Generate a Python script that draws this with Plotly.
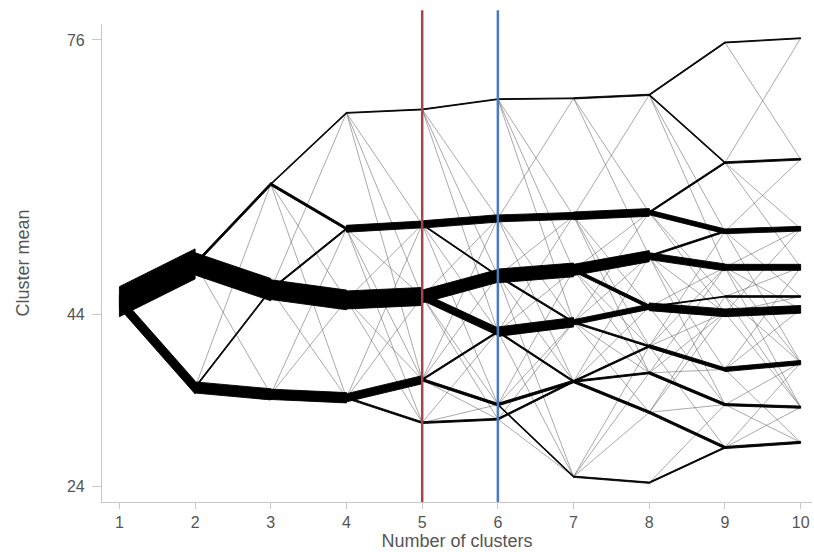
import plotly.graph_objects as go

# ---- data: cluster means for k = 1..10 clusters ----
k_values = [1, 2, 3, 4, 5, 6, 7, 8, 9, 10]
cluster_means = {
    1: [45.5],
    2: [49.9, 35.5],
    3: [59.2, 46.9, 34.7],
    4: [67.5, 54.0, 45.7, 34.3],
    5: [67.9, 54.5, 46.1, 36.4, 31.4],
    6: [69.1, 55.2, 48.5, 42.0, 33.5, 31.8],
    7: [69.2, 55.5, 49.2, 43.1, 36.2, 25.1],
    8: [69.6, 55.9, 50.8, 44.9, 40.3, 37.2, 32.6, 24.4],
    9: [75.7, 61.7, 53.7, 49.5, 46.1, 44.2, 37.6, 33.5, 28.5],
    10: [76.2, 62.1, 54.0, 49.5, 46.1, 44.6, 38.4, 33.2, 29.1],
}

# transitions (k, cluster index at k, cluster index at k+1, % of observations)
flows = [
    (1, 0, 0, 70), (1, 0, 1, 30),
    (2, 0, 0, 7), (2, 0, 1, 52), (2, 1, 1, 4), (2, 1, 2, 26),
    (3, 0, 0, 3), (3, 0, 1, 6), (3, 1, 1, 4), (3, 1, 2, 46), (3, 2, 3, 24),
    (4, 0, 0, 2), (4, 1, 1, 16), (4, 2, 2, 42), (4, 3, 3, 19), (4, 3, 4, 4),
    (5, 0, 0, 2), (5, 1, 1, 17), (5, 1, 2, 3), (5, 2, 2, 30), (5, 2, 3, 18),
    (5, 3, 3, 4), (5, 3, 4, 6), (5, 4, 5, 4),
    (6, 0, 0, 2), (6, 1, 1, 16), (6, 2, 2, 32), (6, 2, 3, 4), (6, 3, 3, 22),
    (6, 3, 4, 4), (6, 4, 4, 6), (6, 4, 5, 3), (6, 5, 4, 4),
    (7, 0, 0, 3), (7, 1, 1, 18), (7, 2, 2, 26), (7, 2, 3, 8), (7, 3, 3, 12),
    (7, 3, 4, 4), (7, 4, 4, 4), (7, 4, 5, 4), (7, 4, 6, 6), (7, 5, 7, 3),
    (8, 0, 0, 3), (8, 0, 1, 3), (8, 1, 1, 4), (8, 1, 2, 11), (8, 2, 3, 16),
    (8, 2, 2, 4), (8, 3, 5, 18), (8, 3, 4, 2), (8, 4, 6, 8), (8, 5, 7, 6),
    (8, 6, 8, 6), (8, 7, 8, 3),
    (9, 0, 0, 2), (9, 1, 1, 4), (9, 2, 2, 11), (9, 3, 3, 14), (9, 4, 4, 4),
    (9, 5, 5, 18), (9, 6, 6, 10), (9, 7, 7, 5), (9, 8, 8, 5),
]

# small transitions (a few observations each)
minor_flows = [
    (2, 0, 2), (2, 1, 0),
    (3, 0, 2), (3, 0, 3), (3, 2, 1), (3, 2, 2), (3, 1, 3), (3, 1, 0),
    (4, 0, 1), (4, 0, 2), (4, 0, 3), (4, 1, 2), (4, 1, 3), (4, 1, 4),
    (4, 2, 1), (4, 2, 3), (4, 2, 4), (4, 3, 1), (4, 3, 2),
    (5, 0, 1), (5, 0, 2), (5, 0, 3), (5, 1, 4), (5, 2, 1), (5, 2, 4),
    (5, 2, 5), (5, 3, 2), (5, 3, 5), (5, 4, 3), (5, 4, 4), (5, 3, 1), (5, 1, 3),
    (6, 0, 1), (6, 0, 2), (6, 0, 3), (6, 1, 0), (6, 1, 3), (6, 1, 4),
    (6, 2, 1), (6, 2, 4), (6, 3, 1), (6, 3, 2), (6, 3, 5), (6, 4, 3),
    (6, 4, 2), (6, 5, 3), (6, 5, 5), (6, 2, 5),
    (7, 0, 1), (7, 0, 2), (7, 1, 0), (7, 1, 3), (7, 1, 4), (7, 2, 1),
    (7, 2, 4), (7, 2, 5), (7, 3, 2), (7, 3, 5), (7, 3, 6), (7, 4, 2),
    (7, 4, 3), (7, 5, 5), (7, 5, 6), (7, 5, 4), (7, 1, 5), (7, 3, 1),
    (8, 0, 3), (8, 1, 4), (8, 1, 5), (8, 2, 5), (8, 2, 6), (8, 3, 3),
    (8, 4, 3), (8, 4, 5), (8, 4, 8), (8, 5, 5), (8, 5, 6), (8, 6, 7),
    (8, 7, 7), (8, 0, 2), (8, 3, 7), (8, 6, 4), (8, 4, 2), (8, 2, 7),
    (8, 5, 3), (8, 6, 5),
    (9, 0, 1), (9, 1, 0), (9, 1, 2), (9, 1, 3), (9, 2, 1), (9, 2, 4),
    (9, 2, 6), (9, 3, 2), (9, 3, 5), (9, 3, 6), (9, 4, 3), (9, 4, 6),
    (9, 4, 7), (9, 5, 4), (9, 5, 7), (9, 6, 5), (9, 6, 8), (9, 7, 6),
    (9, 7, 8), (9, 8, 6), (9, 8, 7), (9, 6, 3), (9, 3, 7), (9, 5, 2),
]

chosen_solutions = [5, 6]

# ---- drawing ----
THICK_PER_PCT = 0.050  # band height (y units) per percent of observations

fig = go.Figure()

tx, ty = [], []
for k, i, j in minor_flows:
    tx += [k, k + 1, None]
    ty += [cluster_means[k][i], cluster_means[k + 1][j], None]
fig.add_trace(go.Scatter(x=tx, y=ty, mode="lines",
                         line=dict(color="rgba(100,100,100,0.7)", width=0.8),
                         hoverinfo="skip", showlegend=False))

px, py = [], []
for k, i, j, pct in sorted(flows, key=lambda f: f[3]):
    y0 = cluster_means[k][i]
    y1 = cluster_means[k + 1][j]
    h = pct * THICK_PER_PCT / 2
    px += [k, k + 1, k + 1, k, k, None]
    py += [y0 - h, y1 - h, y1 + h, y0 + h, y0 - h, None]
fig.add_trace(go.Scatter(x=px, y=py, mode="lines", fill="toself",
                         fillcolor="black",
                         line=dict(color="black", width=0.9),
                         hoverinfo="skip", showlegend=False))

line_colors = ["#a8434c", "#4a7bc0"]
for xv, col in zip(chosen_solutions, line_colors):
    fig.add_shape(type="line", xref="x", yref="paper", x0=xv, x1=xv,
                  y0=0, y1=1.029, line=dict(color=col, width=2.5),
                  layer="above")

axis_font = dict(family="Liberation Sans, Arial, sans-serif", size=16, color="#555")
fig.update_layout(
    width=814, height=552,
    margin=dict(l=102, r=2, t=24, b=50),
    paper_bgcolor="white", plot_bgcolor="white",
    font=dict(family="Liberation Sans, Arial, sans-serif", color="#555"),
    xaxis=dict(range=[0.77, 10.15], tickmode="array", tickvals=k_values,
               ticktext=[str(v) for v in k_values],
               showgrid=False, zeroline=False, showline=True,
               linecolor="#c8c8c8", linewidth=1.2,
               ticks="outside", ticklen=6, tickcolor="#c8c8c8",
               tickfont=axis_font,
               title=dict(text="Number of clusters", standoff=0,
                          font=dict(size=18, color="#555"))),
    yaxis=dict(range=[22.15, 77.86], tickmode="array", tickvals=[24, 44, 76],
               showgrid=False, zeroline=False, showline=True,
               linecolor="#c8c8c8", linewidth=1.2,
               ticks="outside", ticklen=9, tickcolor="#c8c8c8",
               tickfont=axis_font, ticklabelstandoff=4,
               title=dict(text="Cluster mean", standoff=32,
                          font=dict(size=18, color="#555"))),
)

fig.write_html("out.html")
